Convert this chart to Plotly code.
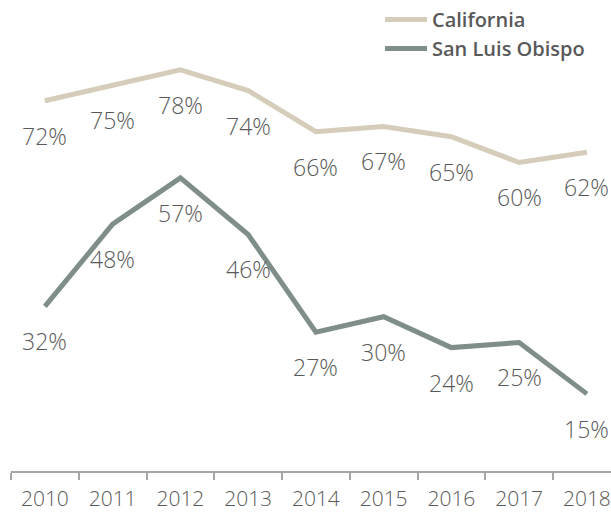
import plotly.graph_objects as go

years = ["2010", "2011", "2012", "2013", "2014", "2015", "2016", "2017", "2018"]
california = [72, 75, 78, 74, 66, 67, 65, 60, 62]
slo = [32, 48, 57, 46, 27, 30, 24, 25, 15]
series_names = ["California", "San Luis Obispo"]
colors = ["#d5cdb9", "#7f8e88"]

TEXT = "#595959"
FONT = "Open Sans"

fig = go.Figure()
for name, vals, col in zip(series_names, [california, slo], colors):
    fig.add_trace(go.Scatter(
        x=years, y=vals, mode="lines", name=name,
        line=dict(color=col, width=5), legendgroup=name,
        hoverinfo="skip",
    ))
    for i, yv in enumerate(vals):
        fig.add_annotation(
            x=i, y=yv, text=f"{yv}%", showarrow=False,
            yanchor="middle", xanchor="center", yshift=-35,
            font=dict(family=FONT, size=23, color=TEXT, weight=300),
        )

fig.update_layout(
    width=611, height=513,
    margin=dict(l=11, r=0, t=0, b=42),
    paper_bgcolor="white", plot_bgcolor="white",
    showlegend=True,
    legend=dict(
        x=0.615, y=1.0, xanchor="left", yanchor="top",
        font=dict(family=FONT, size=20, color=TEXT, weight=600),
        tracegroupgap=0, itemwidth=42, bgcolor="rgba(0,0,0,0)",
    ),
    xaxis=dict(
        type="category", range=[-0.5, 8.356],
        showgrid=False, zeroline=False,
        showline=True, linecolor="#a6a6a6", linewidth=1.5,
        ticks="outside", tickson="boundaries", ticklen=7, tickcolor="#a6a6a6", tickwidth=1.5,
        tickfont=dict(family=FONT, size=21, color=TEXT, weight=300),
        ticklabelstandoff=8,
        automargin=False,
        fixedrange=True,
    ),
    yaxis=dict(
        range=[0, 91.6], visible=False, showgrid=False, zeroline=False, fixedrange=True,
    ),
)

fig.write_html(
    "out.html",
    config={"displayModeBar": False},
    post_script="document.body.style.margin='0';document.body.style.overflow='hidden';",
)
